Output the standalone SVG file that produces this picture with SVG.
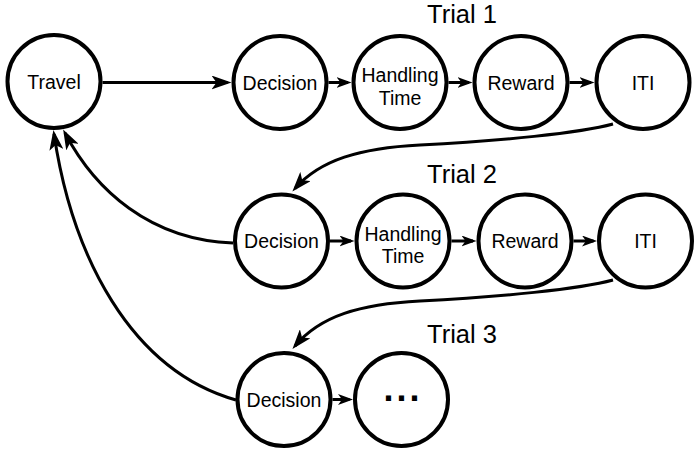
<svg xmlns="http://www.w3.org/2000/svg" width="698" height="452" viewBox="0 0 698 452">
<style>
.n{fill:#fff;stroke:#000;stroke-width:4}
.t{font-family:"Liberation Sans",Arial,sans-serif;font-size:19.5px;fill:#000;text-anchor:middle}
.h{font-family:"Liberation Sans",Arial,sans-serif;font-size:25.5px;fill:#000;text-anchor:middle}
.e{fill:none;stroke:#000;stroke-width:3}
.big{marker-end:url(#ab)}
.sm{marker-end:url(#as)}
</style>
<defs>
<marker id="ab" markerUnits="userSpaceOnUse" markerWidth="20" markerHeight="14" viewBox="0 0 20 14" refX="16" refY="7" orient="auto"><path d="M0,0 L20,7 L0,14 L5,7 Z" fill="#000"/></marker>
<marker id="as" markerUnits="userSpaceOnUse" markerWidth="15" markerHeight="11" viewBox="0 0 15 11" refX="11.5" refY="5.5" orient="auto"><path d="M0,0 L15,5.5 L0,11 L4,5.5 Z" fill="#000"/></marker>
</defs>
<rect width="698" height="452" fill="#fff"/>
<text class="h" x="462" y="23">Trial 1</text>
<text class="h" x="462" y="183">Trial 2</text>
<text class="h" x="462" y="343">Trial 3</text>
<g id="connectors">
<path class="e big" d="M102.5,82.5 H227.5"/>
<path class="e sm" d="M328.5,82.5 H348"/>
<path class="e sm" d="M448.5,82.5 H469"/>
<path class="e sm" d="M569.5,82.5 H591"/>
<path class="e sm" d="M330,241 H351"/>
<path class="e sm" d="M451.5,241 H473"/>
<path class="e sm" d="M573.5,241 H593.5"/>
<path class="e sm" d="M332.5,399.5 H349.5"/>
<path class="e big" d="M613,124 C580,133 500,141 420,145 C360,148 320,160 295,188.5"/>
<path class="e big" d="M613,280 C580,289 500,297 420,301 C360,304 320,316 295,346"/>
<path class="e big" d="M233,243 C150,240 95,190 65,133"/>
<path class="e big" d="M236,400 C130,370 72,255 54,134"/>
</g>
<g id="travel"><circle class="n" cx="54" cy="81.5" r="46.5"/><text class="t" x="54" y="88.5">Travel</text></g>
<g id="decision1"><circle class="n" cx="280" cy="82.5" r="46.5"/><text class="t" x="280" y="89.5">Decision</text></g>
<g id="handling1"><circle class="n" cx="400" cy="82.5" r="46.5"/><text class="t" x="400" y="82">Handling</text><text class="t" x="400" y="104.5">Time</text></g>
<g id="reward1"><circle class="n" cx="521" cy="82.5" r="46.5"/><text class="t" x="521" y="89.5">Reward</text></g>
<g id="iti1"><circle class="n" cx="643" cy="82.5" r="46.5"/><text class="t" x="643" y="89.5">ITI</text></g>
<g id="decision2"><circle class="n" cx="281.5" cy="241" r="46.5"/><text class="t" x="281.5" y="248">Decision</text></g>
<g id="handling2"><circle class="n" cx="403" cy="241" r="46.5"/><text class="t" x="403" y="240.5">Handling</text><text class="t" x="403" y="263">Time</text></g>
<g id="reward2"><circle class="n" cx="525" cy="241" r="46.5"/><text class="t" x="525" y="248">Reward</text></g>
<g id="iti2"><circle class="n" cx="645.5" cy="241" r="46.5"/><text class="t" x="645.5" y="248">ITI</text></g>
<g id="decision3"><circle class="n" cx="284" cy="399.5" r="46.5"/><text class="t" x="284" y="406.5">Decision</text></g>
<g id="more"><circle class="n" cx="401.5" cy="399.5" r="46.5"/><text class="t" x="403" y="400.5" style="font-size:36px;font-weight:bold;letter-spacing:3px">...</text></g>
</svg>
